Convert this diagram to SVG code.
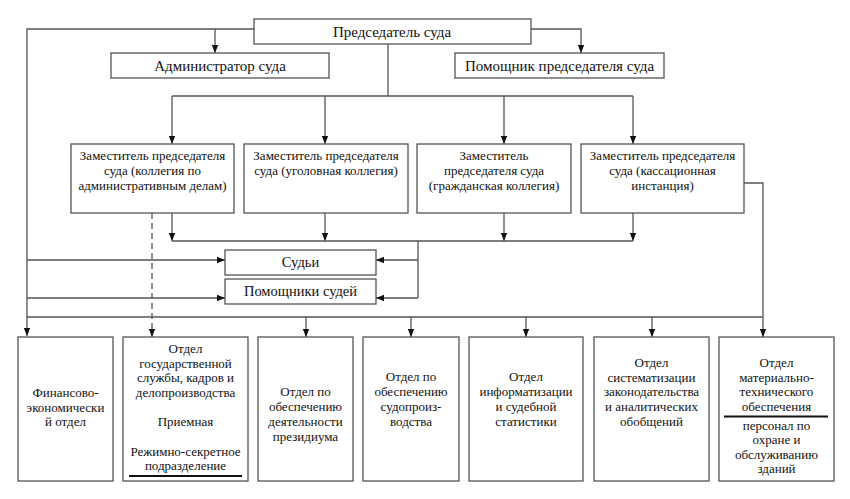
<svg xmlns="http://www.w3.org/2000/svg" width="850" height="499" viewBox="0 0 850 499">
<defs>
<marker id="ah" markerUnits="userSpaceOnUse" markerWidth="8" markerHeight="8" viewBox="0 0 8 8" refX="8" refY="4" orient="auto">
<path d="M0,0.8 L8,4 L0,7.2 Z" fill="#111"/>
</marker>
<style>
.box{fill:#fff;stroke:#555;stroke-width:1.3}
.ln{fill:none;stroke:#555;stroke-width:1.3}
.ar{marker-end:url(#ah)}
text{font-family:'Liberation Serif','DejaVu Serif',serif;fill:#111;text-anchor:middle}
.t15{font-size:15px}
.t14{font-size:14.5px}
.t13{font-size:13px}
.ul{stroke:#111;stroke-width:2}
</style>
</defs>
<rect width="850" height="499" fill="#fff"/>
<g id="connectors">
<path class="ln ar" d="M254,29 H27 V336"/>
<path class="ln ar" d="M215,29 V53"/>
<path class="ln ar" d="M531,29 H581 V53"/>
<path class="ln" d="M388,44 V96 M172,96 H633"/>
<path class="ln ar" d="M172,96 V144"/>
<path class="ln ar" d="M325,96 V144"/>
<path class="ln ar" d="M504,96 V144"/>
<path class="ln ar" d="M633,96 V144"/>
<path class="ln ar" d="M172,213 V241"/>
<path class="ln ar" d="M325,213 V241"/>
<path class="ln ar" d="M504,213 V241"/>
<path class="ln ar" d="M633,213 V241"/>
<path class="ln" d="M172,241 H633 M418,241 V298"/>
<path class="ln ar" d="M418,260 H376"/>
<path class="ln ar" d="M418,298 H376"/>
<path class="ln ar" d="M27,260 H225"/>
<path class="ln ar" d="M27,298 H225"/>
<path class="ln" d="M27,317 H763"/>
<path class="ln ar" d="M744,183 H763 V337"/>
<path class="ln ar" d="M306,317 V337"/>
<path class="ln ar" d="M411,317 V337"/>
<path class="ln ar" d="M526,317 V337"/>
<path class="ln ar" d="M652,317 V337"/>
<path class="ln ar" d="M152,213 V337" stroke-dasharray="6,4"/>
</g>
<g font-family="'Liberation Serif', 'DejaVu Serif', serif">
<g id="chair">
<rect class="box" x="254" y="19" width="277" height="25"/>
<text class="t15" x="392" y="37">Председатель суда</text>
</g>
<g id="admin">
<rect class="box" x="111" y="53" width="218" height="25"/>
<text class="t15" x="220" y="71">Администратор суда</text>
</g>
<g id="assistant-chair">
<rect class="box" x="455" y="53" width="209" height="25"/>
<text class="t15" x="559.5" y="71">Помощник председателя суда</text>
</g>
<g id="deputy-admin">
<rect class="box" x="71" y="144" width="163" height="69"/>
<text class="t13" x="152.5" y="160">Заместитель председателя</text>
<text class="t13" x="152.5" y="175">суда (коллегия по</text>
<text class="t13" x="152.5" y="190">административным делам)</text>
</g>
<g id="deputy-criminal">
<rect class="box" x="244" y="144" width="164" height="69"/>
<text class="t13" x="326" y="160">Заместитель председателя</text>
<text class="t13" x="326" y="175">суда (уголовная коллегия)</text>
</g>
<g id="deputy-civil">
<rect class="box" x="417" y="144" width="154" height="69"/>
<text class="t13" x="494" y="160">Заместитель</text>
<text class="t13" x="494" y="175">председателя суда</text>
<text class="t13" x="494" y="190">(гражданская коллегия)</text>
</g>
<g id="deputy-cassation">
<rect class="box" x="581" y="144" width="163" height="69"/>
<text class="t13" x="662.5" y="160">Заместитель председателя</text>
<text class="t13" x="662.5" y="175">суда (кассационная</text>
<text class="t13" x="662.5" y="190">инстанция)</text>
</g>
<g id="judges">
<rect class="box" x="225" y="250" width="151" height="25"/>
<text class="t14" x="300.5" y="267">Судьи</text>
</g>
<g id="judge-assistants">
<rect class="box" x="225" y="279" width="151" height="25"/>
<text class="t14" x="300.5" y="296">Помощники судей</text>
</g>
<g id="dept-finance">
<rect class="box" x="18" y="337" width="95" height="144"/>
<text class="t13" x="65.5" y="397">Финансово-</text>
<text class="t13" x="65.5" y="412">экономически</text>
<text class="t13" x="65.5" y="426">й отдел</text>
</g>
<g id="dept-civil-service">
<rect class="box" x="123" y="337" width="125" height="144"/>
<text class="t13" x="185.5" y="353">Отдел</text>
<text class="t13" x="185.5" y="367.5">государственной</text>
<text class="t13" x="185.5" y="382">службы, кадров и</text>
<text class="t13" x="185.5" y="397">делопроизводства</text>
<text class="t13" x="185.5" y="426">Приемная</text>
<text class="t13" x="185.5" y="456">Режимно-секретное</text>
<text class="t13" x="185.5" y="470">подразделение</text>
<line class="ul" x1="129" y1="476" x2="242" y2="476"/>
</g>
<g id="dept-presidium">
<rect class="box" x="258" y="337" width="95" height="144"/>
<text class="t13" x="305.5" y="396">Отдел по</text>
<text class="t13" x="305.5" y="410.5">обеспечению</text>
<text class="t13" x="305.5" y="425.5">деятельности</text>
<text class="t13" x="305.5" y="440.5">президиума</text>
</g>
<g id="dept-proceedings">
<rect class="box" x="363" y="337" width="96" height="144"/>
<text class="t13" x="411" y="381">Отдел по</text>
<text class="t13" x="411" y="395.5">обеспечению</text>
<text class="t13" x="411" y="410.5">судопроиз-</text>
<text class="t13" x="411" y="425.5">водства</text>
</g>
<g id="dept-informatization">
<rect class="box" x="469" y="337" width="114" height="144"/>
<text class="t13" x="526" y="381">Отдел</text>
<text class="t13" x="526" y="395.5">информатизации</text>
<text class="t13" x="526" y="410.5">и судебной</text>
<text class="t13" x="526" y="425.5">статистики</text>
</g>
<g id="dept-systematization">
<rect class="box" x="594" y="337" width="115" height="144"/>
<text class="t13" x="651.5" y="367">Отдел</text>
<text class="t13" x="651.5" y="381.5">систематизации</text>
<text class="t13" x="651.5" y="396">законодательства</text>
<text class="t13" x="651.5" y="410.5">и аналитических</text>
<text class="t13" x="651.5" y="425.5">обобщений</text>
</g>
<g id="dept-logistics">
<rect class="box" x="719" y="337" width="115" height="144"/>
<text class="t13" x="776.5" y="367">Отдел</text>
<text class="t13" x="776.5" y="381.5">материально-</text>
<text class="t13" x="776.5" y="396">технического</text>
<text class="t13" x="776.5" y="410.5">обеспечения</text>
<line class="ul" x1="724" y1="416.5" x2="828" y2="416.5"/>
<text class="t13" x="776.5" y="429.5">персонал по</text>
<text class="t13" x="776.5" y="444">охране и</text>
<text class="t13" x="776.5" y="458.5">обслуживанию</text>
<text class="t13" x="776.5" y="473">зданий</text>
</g>
</g>
</svg>
